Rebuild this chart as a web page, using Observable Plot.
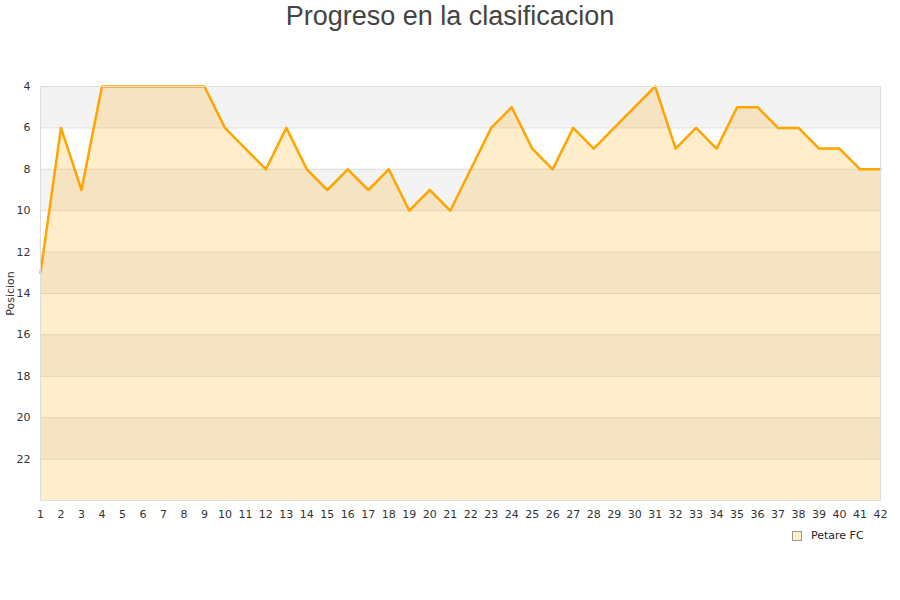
<!DOCTYPE html>
<html>
<head>
<meta charset="utf-8">
<script src="https://cdn.jsdelivr.net/npm/d3@7"></script>
<script src="https://cdn.jsdelivr.net/npm/@observablehq/plot@0.6"></script>
<style>
  body { margin: 0; background: #fff; }
  #wrap { position: relative; width: 900px; height: 600px; font-family: "DejaVu Sans", sans-serif; }
  #title { position: absolute; left: 0; top: 0; width: 900px; text-align: center; font-family: "Liberation Sans", Arial, sans-serif; font-size: 27px; color: #444; line-height: 32px; }
  #legend { position: absolute; left: 792px; top: 529px; font-size: 11px; color: #222; display: flex; align-items: center; }
  #legend .sw { width: 8px; height: 8px; background: rgba(255,165,0,0.2); border: 1px solid #999; margin-right: 9px; }
  #chart { position: absolute; left: 0; top: 0; }
</style>
</head>
<body>
<div id="wrap">
  <div id="chart"></div>
  <div id="title">Progreso en la clasificacion</div>
  <div id="legend"><div class="sw"></div><span>Petare FC</span></div>
</div>
<script>
const jornadas = d3.range(1, 43);
const posiciones = [13, 6, 9, 4, 4, 4, 4, 4, 4, 6, 7, 8, 6, 8, 9, 8, 9, 8, 10, 9, 10, 8, 6, 5, 7, 8, 6, 7, 6, 5, 4, 7, 6, 7, 5, 5, 6, 6, 7, 7, 8, 8];
const yTicks = [4, 6, 8, 10, 12, 14, 16, 18, 20, 22];
const bandStarts = [4, 8, 12, 16, 20];
const yMin = 4, yMax = 24;
const equipo = "Petare FC";

const data = jornadas.map((j, i) => ({jornada: j, pos: posiciones[i]}));
const bands = bandStarts.map(s => ({y1: s, y2: s + 2}));

const chart = Plot.plot({
  width: 900,
  height: 600,
  marginTop: 86,
  marginBottom: 100,
  marginLeft: 40,
  marginRight: 20,
  style: {fontFamily: "DejaVu Sans, sans-serif", fontSize: "11px", color: "#333", background: "transparent"},
  x: {domain: [1, 42], ticks: jornadas, tickFormat: d => String(d), tickSize: 0, tickPadding: 10, label: null},
  y: {domain: [yMax, yMin], ticks: yTicks, tickSize: 0, tickPadding: 10, label: "Posicion", labelAnchor: "center", labelArrow: "none", labelOffset: 34},
  marks: [
    Plot.rect(bands, {x1: 1, x2: 42, y1: "y1", y2: "y2", fill: "#f3f3f3"}),
    Plot.ruleY(yTicks, {stroke: "#ddd", strokeWidth: 1}),
    Plot.areaY(data, {x: "jornada", y1: yMax, y2: "pos", fill: "#ffa500", fillOpacity: 0.2}),
    Plot.line(data, {x: "jornada", y: "pos", stroke: "#ffa500", strokeWidth: 2.5}),
    Plot.frame({stroke: "#ddd"})
  ]
});
document.getElementById("chart").appendChild(chart);
</script>
</body>
</html>
